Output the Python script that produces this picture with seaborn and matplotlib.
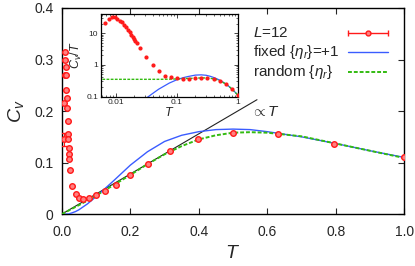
import numpy as np
import matplotlib
matplotlib.use("Agg")
import matplotlib.pyplot as plt
import seaborn as sns

sns.set_theme(style="ticks")
plt.rcParams["font.family"] = ["Liberation Sans", "DejaVu Sans"]
plt.rcParams["mathtext.fontset"] = "custom"
plt.rcParams["mathtext.rm"] = "Liberation Sans"
plt.rcParams["mathtext.it"] = "Liberation Sans:italic"

# 1. Data
# Monte Carlo points, L=12
T_data = [0.0067, 0.0077, 0.0086, 0.0095, 0.0105, 0.0116, 0.0124, 0.0135,
          0.0148, 0.0157, 0.0168, 0.0178, 0.0188, 0.0197, 0.0207, 0.0218,
          0.025, 0.031, 0.040, 0.050, 0.063, 0.079, 0.100, 0.126, 0.158,
          0.200, 0.251, 0.316, 0.398, 0.501, 0.631, 0.794, 1.000]
C_data = [0.145, 0.215, 0.27, 0.315, 0.30, 0.285, 0.27, 0.24,
          0.225, 0.205, 0.18, 0.155, 0.145, 0.128, 0.117, 0.107,
          0.085, 0.054, 0.039, 0.032, 0.029, 0.032, 0.038, 0.045, 0.057,
          0.075, 0.097, 0.123, 0.146, 0.158, 0.156, 0.137, 0.110]
C_err = [0.012] + [0.0] * (len(T_data) - 1)

# fixed {eta_r} = +1 and random {eta_r} curves
T_curve = [0.0, 0.006, 0.01, 0.02, 0.03, 0.04, 0.05, 0.075, 0.1, 0.125, 0.15,
           0.2, 0.25, 0.3, 0.35, 0.4, 0.45, 0.5, 0.55, 0.6, 0.7, 0.8, 0.9, 1.0]
C_fixed = [0.0, 0.0, 0.0, 0.0003, 0.0025, 0.005, 0.0085, 0.02, 0.034, 0.049,
           0.064, 0.095, 0.121, 0.141, 0.153, 0.160, 0.164, 0.165, 0.164,
           0.160, 0.150, 0.137, 0.123, 0.110]
C_random = [0.0, 0.0021, 0.0035, 0.007, 0.0105, 0.014, 0.0175, 0.0265, 0.036,
            0.046, 0.056, 0.076, 0.097, 0.116, 0.132, 0.145, 0.153, 0.158,
            0.159, 0.158, 0.151, 0.137, 0.123, 0.109]

# proportional-to-T guide line
T_lin = [0.0, 0.57]
C_lin = [0.0, 0.222]

legend_labels = [r"$L$=12", r"fixed $\{\eta_r\}$=+1", r"random $\{\eta_r\}$"]

RED = "#ff1a1a"
BLUE = "#3a5cff"
GREEN = "#33bb11"
DASH = (0, (2, 1))

# 2. Main panel
fig = plt.figure(figsize=(4.15, 2.66), dpi=100)
ax = fig.add_axes([0.149, 0.195, 0.825, 0.775])

ax.plot(T_lin, C_lin, color="#222222", lw=0.8, zorder=2)
sns.lineplot(x=T_curve, y=C_fixed, ax=ax, color=BLUE, lw=1.0, zorder=3)
sns.lineplot(x=T_curve, y=C_random, ax=ax, color=GREEN, lw=1.4,
             linestyle=DASH, zorder=3)
ax.errorbar(T_data, C_data, yerr=C_err, fmt="o", ms=4.0, mfc="#ff8080",
            mec=RED, mew=1.0, ecolor=RED, elinewidth=0.8, capsize=2.0,
            capthick=0.8, zorder=4)

ax.text(0.552, 0.198, r"$\propto T$", fontsize=11, ha="left", va="center")

ax.set_xlim(0, 1)
ax.set_ylim(0, 0.4)
ax.set_xticks([0, 0.2, 0.4, 0.6, 0.8, 1.0])
ax.set_xticklabels(["0.0", "0.2", "0.4", "0.6", "0.8", "1.0"])
ax.set_yticks([0, 0.1, 0.2, 0.3, 0.4])
ax.set_yticklabels(["0", "0.1", "0.2", "0.3", "0.4"])
ax.tick_params(direction="in", top=True, right=True, length=4, width=0.8,
               labelsize=10)
ax.tick_params(axis="x", pad=8)
ax.tick_params(axis="y", pad=6)
for s in ax.spines.values():
    s.set_linewidth(1.0)
    s.set_color("black")
ax.set_xlabel(r"$T$", fontsize=14, labelpad=4)
ax.set_ylabel(r"$C_v$", fontsize=14, labelpad=6)

# gnuplot-style key: text left, sample on the right
key_y = [0.879, 0.786, 0.689]
tr = ax.transAxes
for lab, yy in zip(legend_labels, key_y):
    ax.text(0.558, yy, lab, transform=tr, fontsize=11, ha="left",
            va="center")
ax.plot([0.836, 0.953], [key_y[0]] * 2, transform=tr, color=RED, lw=1.0)
ax.plot([0.8945], [key_y[0]], transform=tr, marker="o", ms=3.5,
        mfc="#ff8080", mec=RED, ls="none")
ax.plot([0.836, 0.953], [key_y[0]] * 2, transform=tr, marker="|", ms=5,
        color=RED, mew=1.0, ls="none")
ax.plot([0.836, 0.953], [key_y[1]] * 2, transform=tr, color=BLUE, lw=1.0)
ax.plot([0.836, 0.953], [key_y[2]] * 2, transform=tr, color=GREEN, lw=1.4,
        linestyle=DASH)

# 3. Inset: C/T on log-log axes
ins = fig.add_axes([0.2434, 0.637, 0.330, 0.310])
Tc = np.array(T_curve)
pos = Tc > 0
fix_over_T = np.array(C_fixed)[pos] / Tc[pos]
rnd_over_T = np.array(C_random)[pos] / Tc[pos]
fix_over_T = np.where(fix_over_T > 0, fix_over_T, np.nan)
ins.plot(Tc[pos], fix_over_T, color=BLUE, lw=0.9)
ins.plot(Tc[pos], rnd_over_T, color=GREEN, lw=1.0, linestyle=DASH)
ins.plot(T_data, np.array(C_data) / np.array(T_data), "o", ms=2.0,
         color=RED, mec=RED, zorder=4)
ins.set_xscale("log")
ins.set_yscale("log")
ins.set_xlim(0.0057, 1.0)
ins.set_ylim(0.1, 40)
ins.set_xticks([0.01, 0.1, 1])
ins.set_xticklabels(["0.01", "0.1", "1"])
ins.set_yticks([0.1, 1, 10])
ins.set_yticklabels(["0.1", "1", "10"])
ins.tick_params(which="both", direction="in", top=True, right=True,
                labelsize=6, pad=2)
ins.tick_params(which="major", length=3, width=0.6)
ins.tick_params(which="minor", length=1.5, width=0.5)
for s in ins.spines.values():
    s.set_linewidth(0.9)
    s.set_color("black")
ins.set_xlabel(r"$T$", fontsize=9, labelpad=0)
ins.set_ylabel(r"$C_v/T$", fontsize=9, labelpad=2)

fig.savefig("out.png", dpi=100)
